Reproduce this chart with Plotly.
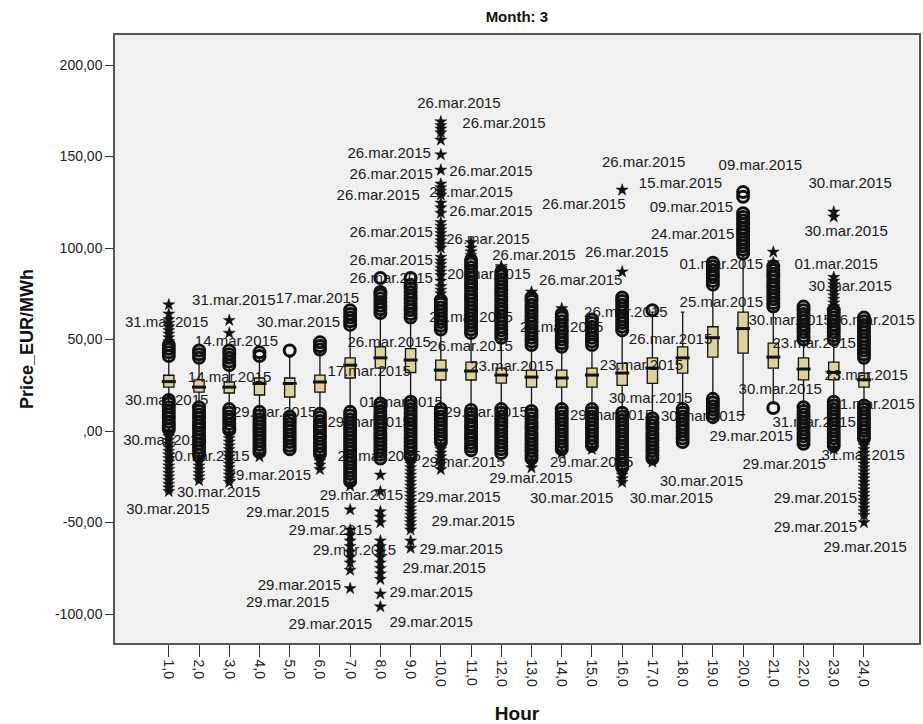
import plotly.graph_objects as go

# ---------------- data ----------------
HOURS = list(range(1, 25))
HOUR_LABELS = [f"{h},0" for h in HOURS]

Q1  = [24.0, 21.3, 20.8, 19.7, 18.6, 21.3, 29.0, 34.4, 32.0, 27.9, 27.9, 26.2,
       24.0, 24.0, 24.0, 25.0, 26.0, 31.7, 40.4, 42.6, 34.4, 28.0, 28.0, 24.0]
MED = [27.0, 24.0, 24.0, 26.0, 26.0, 26.8, 36.0, 40.0, 38.8, 33.3, 32.8, 30.6,
       29.5, 29.0, 30.6, 31.7, 34.4, 40.0, 51.0, 56.0, 40.4, 33.9, 32.0, 28.0]
Q3  = [30.5, 28.0, 26.8, 29.0, 29.0, 30.6, 40.0, 46.0, 45.0, 38.8, 37.7, 34.4,
       33.3, 33.3, 34.4, 37.0, 40.0, 46.0, 57.0, 65.0, 48.0, 40.0, 37.7, 31.7]
LOW = [19.0, 14.0, 13.0, 11.5, 8.7, 10.4, 11.5, 16.0, 17.0, 13.0, 12.0, 12.6,
       11.5, 12.6, 12.6, 11.0, 8.0, 12.6, 18.6, 9.0, 15.0, 14.0, 17.0, 15.0]
HIGH = [40.0, 39.0, 35.0, 40.0, 40.4, 43.0, 57.0, 63.0, 61.0, 55.0, 52.0, 50.0,
        46.0, 45.0, 46.0, 54.0, 65.0, 65.0, 79.0, 96.0, 67.0, 49.0, 49.0, 39.0]

# outliers (o) per hour
CIRCLE_OUTLIERS = {
    1: [41, 43, 45, 47, 17, 15, 13, 11, 9, 7, 5, 3, 1],
    2: [40, 42, 44, 13, 11, 9, 7, 5, 3, 1, -1, -3, -5, -7, -9, -11, -13],
    3: [36, 38, 40, 42, 44, 12, 10, 8, 6, 4, 2, 0.5],
    4: [41, 43, 10.5, 8.5, 6.5, 4.5, 2.5, 0.5, -1.5, -3.5, -5.5, -7.5, -9.5, -11.5],
    5: [44, 8, 6, 4, 2, 0, -2, -4, -6, -8, -10],
    6: [44.5, 46.5, 48.5, 9.5, 7.5, 5.5, 3.5, 1.5, -0.5, -2.5, -4.5, -6.5, -8.5, -10.5, -12.5],
    7: [58, 60, 62, 64, 66, 10.5, 8.5, 6.5, 4.5, 2.5, 0.5, -1.5, -3.5, -5.5, -7.5, -9.5,
        -11.5, -13.5, -15.5, -17.5, -19.5, -21.5, -23.5, -25.5, -27.5],
    8: [64.5, 66.5, 68.5, 70.5, 72.5, 74.5, 76, 83.6, 15, 13, 11, 9, 7, 5, 3, 1, -1, -3,
        -5, -7, -9, -11, -13, -15],
    9: [62, 64, 66, 68, 70, 72, 74, 76, 78, 80, 83.6, 16, 14, 12, 10, 8, 6, 4, 2, 0, -2,
        -4, -6, -8, -10, -12, -14],
    10: [55.5, 57.5, 59.5, 61.5, 63.5, 65.5, 67.5, 69.5, 71.5, 12, 10, 8, 6, 4, 2, 0, -2,
         -4, -6],
    11: [53.5, 55.5, 57.5, 59.5, 61.5, 63.5, 65.5, 67.5, 69.5, 71.5, 73.5, 75.5, 77.5, 79.5,
         81.5, 83.5, 85.5, 87.5, 89.5, 91.5, 93.5, 11.5, 9.5, 7.5, 5.5, 3.5, 1.5, -0.5,
         -2.5, -4.5, -6.5, -8.5, -10.5],
    12: [51, 53, 55, 57, 59, 61, 63, 65, 67, 69, 71, 73, 75, 77, 79, 81, 83, 85, 87, 12,
         10, 8, 6, 4, 2, 0, -2, -4, -6, -8, -10, -12],
    13: [47, 49, 51, 53, 55, 57, 59, 61, 63, 65, 67, 69, 71, 73, 11, 9, 7, 5, 3, 1, -1,
         -3, -5, -7, -9, -11, -13, -15],
    14: [46, 48, 50, 52, 54, 56, 58, 60, 62, 64, 12, 10, 8, 6, 4, 2, 0, -2, -4, -6, -8, -10],
    15: [47, 49, 51, 53, 55, 57, 59, 61, 12, 10, 8, 6, 4, 2, 0, -2, -4, -6, -8],
    16: [55, 57, 59, 61, 63, 65, 67, 69, 71, 73, 10, 8, 6, 4, 2, 0, -2, -4, -6, -8, -10,
         -12, -14, -16, -18, -20],
    17: [66, 7, 5, 3, 1, -1, -3, -5, -7, -9, -11, -13, -15],
    18: [12, 10, 8, 6, 4, 2, 0, -2, -4, -6],
    19: [80, 82, 84, 86, 88, 90, 92, 17.6, 15.6, 13.6, 11.6, 9.6, 7.6],
    20: [97, 99, 101, 103, 105, 107, 109, 111, 113, 115, 117, 119, 128, 130.6],
    21: [68, 70, 72, 74, 76, 78, 80, 82, 84, 86, 88, 90, 12.6],
    22: [50, 52, 54, 56, 58, 60, 62, 64, 66, 68, 13, 11, 9, 7, 5, 3, 1, -1, -3, -5, -7],
    23: [50, 52, 54, 56, 58, 60, 62, 64, 66, 16, 14, 12, 10, 8, 6, 4, 2, 0, -2, -4, -6, -8],
    24: [40, 42, 44, 46, 48, 50, 52, 54, 56, 58, 60, 62, 14, 12, 10, 8, 6, 4, 2, 0, -2, -4],
}
# extremes (*) per hour
STAR_OUTLIERS = {
    1: [49, 51, 53, 55, 57, 59, 61, 64, 69, -1, -3, -5, -7, -9, -11, -13, -15, -17, -19,
        -21, -23, -25, -27, -29, -31, -33],
    2: [-15, -17, -19, -21, -23, -25, -27],
    3: [53.5, 60.5, -2, -4, -6, -8, -10, -12, -14, -16, -18, -20, -22, -24, -26, -28],
    4: [-14],
    5: [],
    6: [-14.5, -16.5, -18.5, -21],
    7: [-30, -43, -54, -57, -60, -63, -66, -69, -72, -76, -86],
    8: [-24, -33, -44, -47, -50, -60, -63, -66, -69, -72, -75, -78, -81, -89, -96],
    9: [-16, -18, -20, -22, -24, -26, -28, -30, -32, -34, -36, -38, -40, -42, -44, -46,
        -48, -50, -52, -54, -60, -64],
    10: [75, 77, 79, 82, 85, 87, 89, 91, 93, 95, 100, 102, 104, 106, 108, 110, 112, 114,
         119, 122, 124.6, 129, 131, 133, 135, 142.6, 151, 159, 163, 165, 167, 169,
         -8, -10, -12, -14, -16, -18, -21],
    11: [96, 98, 100, 103],
    12: [89, 90],
    13: [76, -17, -20],
    14: [67, -12],
    15: [-10],
    16: [87, 131.7, -22, -24, -26, -28],
    17: [-17],
    18: [],
    19: [],
    20: [],
    21: [92, 97.8],
    22: [],
    23: [68, 70, 72, 74, 76, 78, 80, 82, 84, 117, 119.7, -10],
    24: [-6, -8, -10, -12, -14, -16, -18, -20, -22, -24, -26, -28, -30, -32, -34, -36,
         -38, -40, -42, -44, -46, -50],
}

# case labels (date) and where each sits, in hour / price units
LABEL_TEXT = [
    "26.mar.2015", "26.mar.2015", "26.mar.2015", "26.mar.2015", "26.mar.2015",
    "26.mar.2015", "09.mar.2015", "30.mar.2015", "15.mar.2015", "26.mar.2015",
    "26.mar.2015", "26.mar.2015", "09.mar.2015", "26.mar.2015", "30.mar.2015",
    "26.mar.2015", "24.mar.2015", "26.mar.2015", "26.mar.2015", "26.mar.2015",
    "26.mar.2015", "01.mar.2015", "01.mar.2015", "26.mar.2015", "20.mar.2015",
    "26.mar.2015", "30.mar.2015", "31.mar.2015", "17.mar.2015", "25.mar.2015",
    "31.mar.2015", "30.mar.2015", "26.mar.2015", "26.mar.2015", "26.mar.2015",
    "30.mar.2015", "26.mar.2015", "14.mar.2015", "26.mar.2015", "26.mar.2015",
    "26.mar.2015", "23.mar.2015", "23.mar.2015", "23.mar.2015", "17.mar.2015",
    "14.mar.2015", "23.mar.2015", "30.mar.2015", "30.mar.2015", "30.mar.2015",
    "01.mar.2015", "01.mar.2015", "29.mar.2015", "30.mar.2015", "31.mar.2015",
    "29.mar.2015", "30.mar.2015", "29.mar.2015", "29.mar.2015", "29.mar.2015",
    "30.mar.2015", "29.mar.2015", "29.mar.2015", "29.mar.2015", "29.mar.2015",
    "31.mar.2015", "29.mar.2015", "29.mar.2015", "30.mar.2015", "30.mar.2015",
    "29.mar.2015", "29.mar.2015", "30.mar.2015", "30.mar.2015", "29.mar.2015",
    "30.mar.2015", "29.mar.2015", "29.mar.2015", "29.mar.2015", "29.mar.2015",
    "29.mar.2015", "29.mar.2015", "29.mar.2015", "29.mar.2015", "29.mar.2015",
    "29.mar.2015", "29.mar.2015", "29.mar.2015", "29.mar.2015",
]
LABEL_HOUR = [
    10.60, 12.09, 8.29, 8.36, 11.66,
    16.71, 20.57, 23.54, 17.93, 7.93,
    11.00, 14.73, 18.29, 11.66, 23.41,
    8.36, 18.33, 11.56, 13.08, 16.15,
    8.36, 19.28, 23.08, 8.36, 11.59,
    14.63, 23.54, 3.15, 5.92, 19.28,
    0.93, 5.29, 11.00, 14.00, 16.12,
    21.56, 24.30, 3.24, 8.29, 11.00,
    17.60, 22.35, 12.35, 16.64, 7.63,
    3.01, 24.07, 21.23, 0.93, 16.94,
    8.69, 24.30, 4.50, 18.66, 22.35,
    20.27, 0.87, 11.50, 15.65, 7.63,
    2.29, 7.96, 10.74, 14.99, 21.36,
    23.97, 4.33, 12.98, 18.62, 2.65,
    7.37, 10.60, 14.33, 17.63, 22.39,
    0.97, 4.93, 11.07, 22.39, 6.35,
    24.04, 7.14, 10.67, 10.11, 5.32,
    9.68, 4.93, 6.35, 9.68,
]
LABEL_VALUE = [
    178.7, 167.8, 151.4, 139.9, 141.5,
    146.4, 144.8, 135.0, 135.0, 128.4,
    130.1, 123.5, 121.9, 119.7, 108.7,
    108.2, 107.1, 104.4, 95.6, 97.3,
    92.9, 90.7, 90.7, 83.1, 85.2,
    82.0, 78.7, 71.0, 72.1, 69.9,
    59.0, 59.0, 61.7, 56.3, 64.5,
    60.1, 60.1, 48.6, 48.1, 45.9,
    49.7, 47.5, 35.0, 35.5, 32.2,
    29.0, 30.1, 22.4, 16.4, 17.5,
    15.3, 14.2, 9.8, 7.7, 4.4,
    -3.3, -5.5, 9.8, 8.2, 4.4,
    -14.2, -14.2, -17.5, -17.5, -18.6,
    -13.7, -24.6, -26.2, -27.9, -33.9,
    -35.5, -36.6, -37.2, -37.2, -37.2,
    -43.2, -44.8, -49.7, -53.0, -54.6,
    -63.9, -65.6, -65.0, -75.4, -84.7,
    -88.5, -94.0, -106.0, -104.9,
]

Y_TICKS = [-100, -50, 0, 50, 100, 150, 200]
Y_TICK_LABELS = ["-100,00", "-50,00", ",00", "50,00", "100,00", "150,00", "200,00"]

# ---------------- figure ----------------
FONT = "Liberation Sans, Arial, sans-serif"
fig = go.Figure()

# case labels (drawn first, underneath)
fig.add_trace(go.Scatter(
    x=LABEL_HOUR, y=LABEL_VALUE, text=LABEL_TEXT, mode="text",
    textposition="middle center",
    textfont=dict(family=FONT, size=15, color="#1a1a1a"),
    hoverinfo="skip", showlegend=False,
))

fig.add_trace(go.Box(
    x=HOURS, q1=Q1, median=MED, q3=Q3, lowerfence=LOW, upperfence=HIGH,
    fillcolor="#ddd398", line=dict(color="#111111", width=1.3),
    width=0.34, whiskerwidth=0.35, boxpoints=False, hoverinfo="skip",
    showlegend=False,
))

# thick median bars
fig.add_trace(go.Scatter(
    x=HOURS, y=MED, mode="markers",
    marker=dict(symbol="line-ew", size=10, line=dict(color="#111111", width=3)),
    hoverinfo="skip", showlegend=False,
))

cx, cy, sx, sy = [], [], [], []
for h in HOURS:
    for v in CIRCLE_OUTLIERS[h]:
        cx.append(h); cy.append(v)
    for v in STAR_OUTLIERS[h]:
        sx.append(h); sy.append(v)

fig.add_trace(go.Scatter(
    x=cx, y=cy, mode="markers",
    marker=dict(symbol="circle-open", size=11, color="#111111",
                line=dict(color="#111111", width=3)),
    hoverinfo="skip", showlegend=False,
))
fig.add_trace(go.Scatter(
    x=sx, y=sy, mode="markers",
    marker=dict(symbol="star", size=9, color="#111111",
                line=dict(color="#111111", width=0.5)),
    hoverinfo="skip", showlegend=False,
))

fig.update_layout(
    width=923, height=724,
    margin=dict(l=115, r=2, t=35, b=81),
    paper_bgcolor="white", plot_bgcolor="#f0f0f0",
    font=dict(family=FONT, color="#222222"),
    title=dict(text="<b>Month: 3</b>", x=0.56, xanchor="center",
               y=0.977, yanchor="middle",
               font=dict(family=FONT, size=15, color="#111111")),
    showlegend=False,
)
fig.update_xaxes(
    range=[-0.78, 25.82], tickmode="array", tickvals=HOURS, ticktext=HOUR_LABELS,
    tickangle=90, ticks="outside", ticklen=12, tickwidth=1.3, tickcolor="#333333",
    tickfont=dict(family=FONT, size=14, color="#222222"),
    showgrid=False, zeroline=False,
    showline=True, linecolor="#555555", linewidth=1.5, mirror=True,
    title=dict(text="<b>Hour</b>", font=dict(family=FONT, size=19, color="#111111"),
               standoff=22),
)
fig.update_yaxes(
    range=[-115.8, 216.4], tickmode="array", tickvals=Y_TICKS, ticktext=Y_TICK_LABELS,
    ticks="outside", ticklen=8, tickwidth=1.3, tickcolor="#333333",
    tickfont=dict(family=FONT, size=14, color="#222222"),
    showgrid=False, zeroline=False,
    showline=True, linecolor="#555555", linewidth=1.5, mirror=True,
    title=dict(text="<b>Price_EUR/MWh</b>", font=dict(family=FONT, size=18, color="#111111"),
               standoff=17),
)

fig.write_html("out.html")
